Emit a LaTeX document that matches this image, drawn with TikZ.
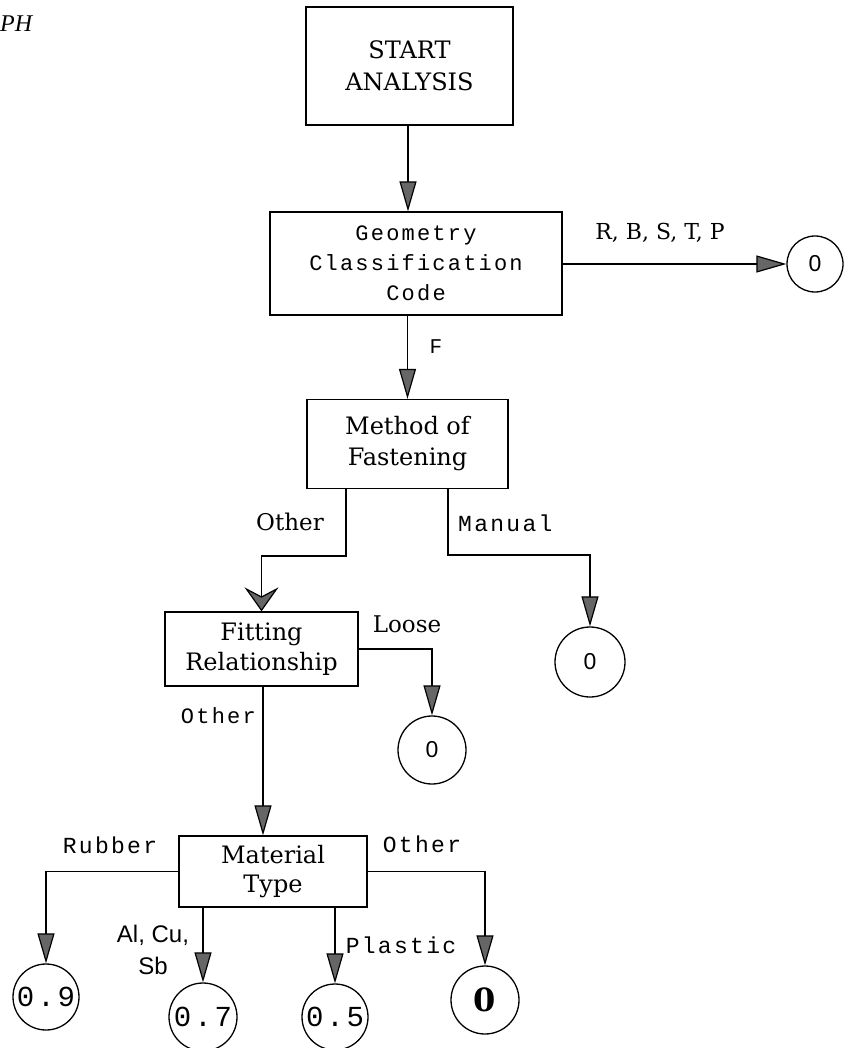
\documentclass[tikz,border=0pt]{standalone}
\usepackage{fontspec}
\setmainfont{DejaVu Serif}
\newfontfamily\tw[LetterSpace=10]{Liberation Mono}
\newfontfamily\sans{Liberation Sans}
\newfontfamily\itserif{Liberation Serif}
\usetikzlibrary{arrows.meta}
\newcommand{\sz}[2]{\fontsize{#1}{#2}\selectfont}
\tikzset{
  box/.style={draw, line width=1.3pt, inner sep=0pt, align=center},
  ring/.style={draw, circle, line width=1.3pt, inner sep=0pt},
  link/.style={line width=1.2pt},
  arr/.style={link, -{Triangle[length=30pt,width=17pt,fill=black!60]}},
  chev/.style={link, -{Stealth[length=24pt,width=34pt,inset=9pt,fill=black!60]}},
  lab/.style={inner sep=0pt},
}
\begin{document}
\begin{tikzpicture}[x=1pt,y=-1pt]
\useasboundingbox (0,0) rectangle (852,1048);
% fragment of caption
\node[lab, anchor=west, font={\itserif\itshape\sz{24}{28}}] (ph) at (0,24) {PH};
% boxes
\node[box, minimum width=207pt, minimum height=118pt, font={\sz{24}{32}}] (start) at (409.5,66) {START\\ANALYSIS};
\node[box, minimum width=292pt, minimum height=103pt, font={\tw\sz{22}{30}}] (geo) at (416,263.5) {Geometry\\Classification\\Code};
\node[box, minimum width=201pt, minimum height=89pt, font={\sz{24}{31}}] (method) at (407.5,444) {Method of\\Fastening};
\node[box, minimum width=193pt, minimum height=74pt, font={\sz{24}{30}}] (fit) at (261.5,649) {Fitting\\Relationship};
\node[box, minimum width=188pt, minimum height=71pt, font={\sz{24}{29}}] (mat) at (273,871.5) {Material\\Type};
% circles
\node[ring, minimum size=56pt, font={\sans\sz{23}{26}}] (c1) at (815,264) {0};
\node[ring, minimum size=70pt, font={\sans\sz{23}{26}}] (c2) at (590,662) {0};
\node[ring, minimum size=68pt, font={\sans\sz{23}{26}}] (c3) at (432,750) {0};
\node[ring, minimum size=66pt, font={\tw\sz{29}{32}}] (c4) at (46,997) {0.9};
\node[ring, minimum size=68pt, font={\tw\sz{29}{32}}] (c5) at (203,1017) {0.7};
\node[ring, minimum size=66pt, font={\tw\sz{29}{32}}] (c6) at (335,1017) {0.5};
\node[ring, minimum size=68pt, font={\bfseries\sz{32}{34}}] (c7) at (485,1000) {0};
% helper bends
\coordinate (mob) at (346,556);
\coordinate (mmb) at (448,555);
% connectors
\draw[arr] (start.south -| 408,0) -- (geo.north -| 408,0);
\draw[arr] (c1.west -| geo.east) -- (c1.west);
\draw[arr] (geo.south -| method.north) -- (method.north);
\draw[chev] (method.south -| mob) -- (mob) -| (fit.north);
\draw[arr] (method.south -| mmb) -- (mmb) -| (c2.north);
\draw[arr] (fit.east) -| (c3.north);
\draw[arr] (fit.south -| 263,0) -- (mat.north -| 263,0);
\draw[arr] (mat.west) -| (c4.north);
\draw[arr] (mat.east) -| (c7.north);
\draw[arr] (mat.south -| c5.north) -- (c5.north);
\draw[arr] (mat.south -| c6.north) -- (c6.north);
% labels
\node[lab, font={\sz{22}{26}}] (lrbstp) at (660,233) {R, B, S, T, P};
\node[lab, font={\tw\sz{21}{24}}] (lf) at (436,347) {F};
\node[lab, font={\sz{23}{26}}] (lother1) at (290,522) {Other};
\node[lab, anchor=west, font={\tw\sz{23}{26}}] (lmanual) at (458,523) {Manual};
\node[lab, font={\sz{23}{26}}] (lloose) at (407,624) {Loose};
\node[lab, anchor=east, font={\tw\sz{22}{26}}] (lother2) at (256,716) {Other};
\node[lab, font={\tw\sz{23}{26}}] (lrubber) at (110,845) {Rubber};
\node[lab, font={\tw\sz{23}{26}}] (lother3) at (422,844) {Other};
\node[lab, align=center, font={\sans\sz{24}{32}}] (lal) at (153,950) {Al, Cu,\\Sb};
\node[lab, font={\tw\sz{23}{26}}] (lplastic) at (401,945) {Plastic};
\end{tikzpicture}
\end{document}
